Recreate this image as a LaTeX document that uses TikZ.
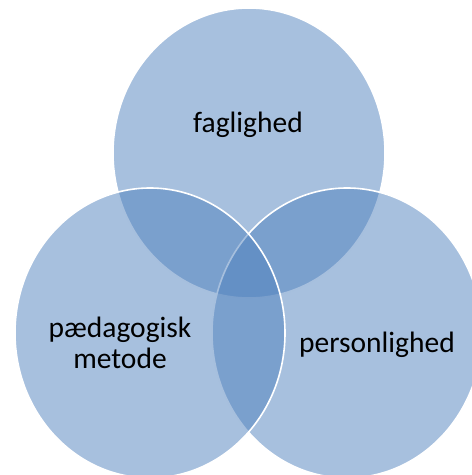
\documentclass[tikz,border=0pt]{standalone}
\usepackage{fontspec}
\setmainfont{Carlito}
\definecolor{accent}{HTML}{4F81BD}
\begin{document}
\begin{tikzpicture}[x=1pt,y=-1pt,
  venn/.style={fill=accent,fill opacity=0.5,draw=white,line width=1.6pt},
  lbl/.style={font=\fontsize{29.5}{31}\selectfont,text=black,align=center,inner sep=0pt}]
\useasboundingbox (0,0) rectangle (472,475);
\path[venn] (249,153) ellipse [x radius=136,y radius=145];
\path[venn] (347,333) ellipse [x radius=135,y radius=145];
\path[venn] (150,333) ellipse [x radius=135,y radius=145];
\node[lbl,anchor=base] (fag) at (248,132) {faglighed};
\node[lbl,anchor=base] (paed) at (120,337) {pædagogisk};
\node[lbl,anchor=base] (met) at (120,368) {metode};
\node[lbl,anchor=base] (pers) at (377,352) {personlighed};
\end{tikzpicture}
\end{document}
